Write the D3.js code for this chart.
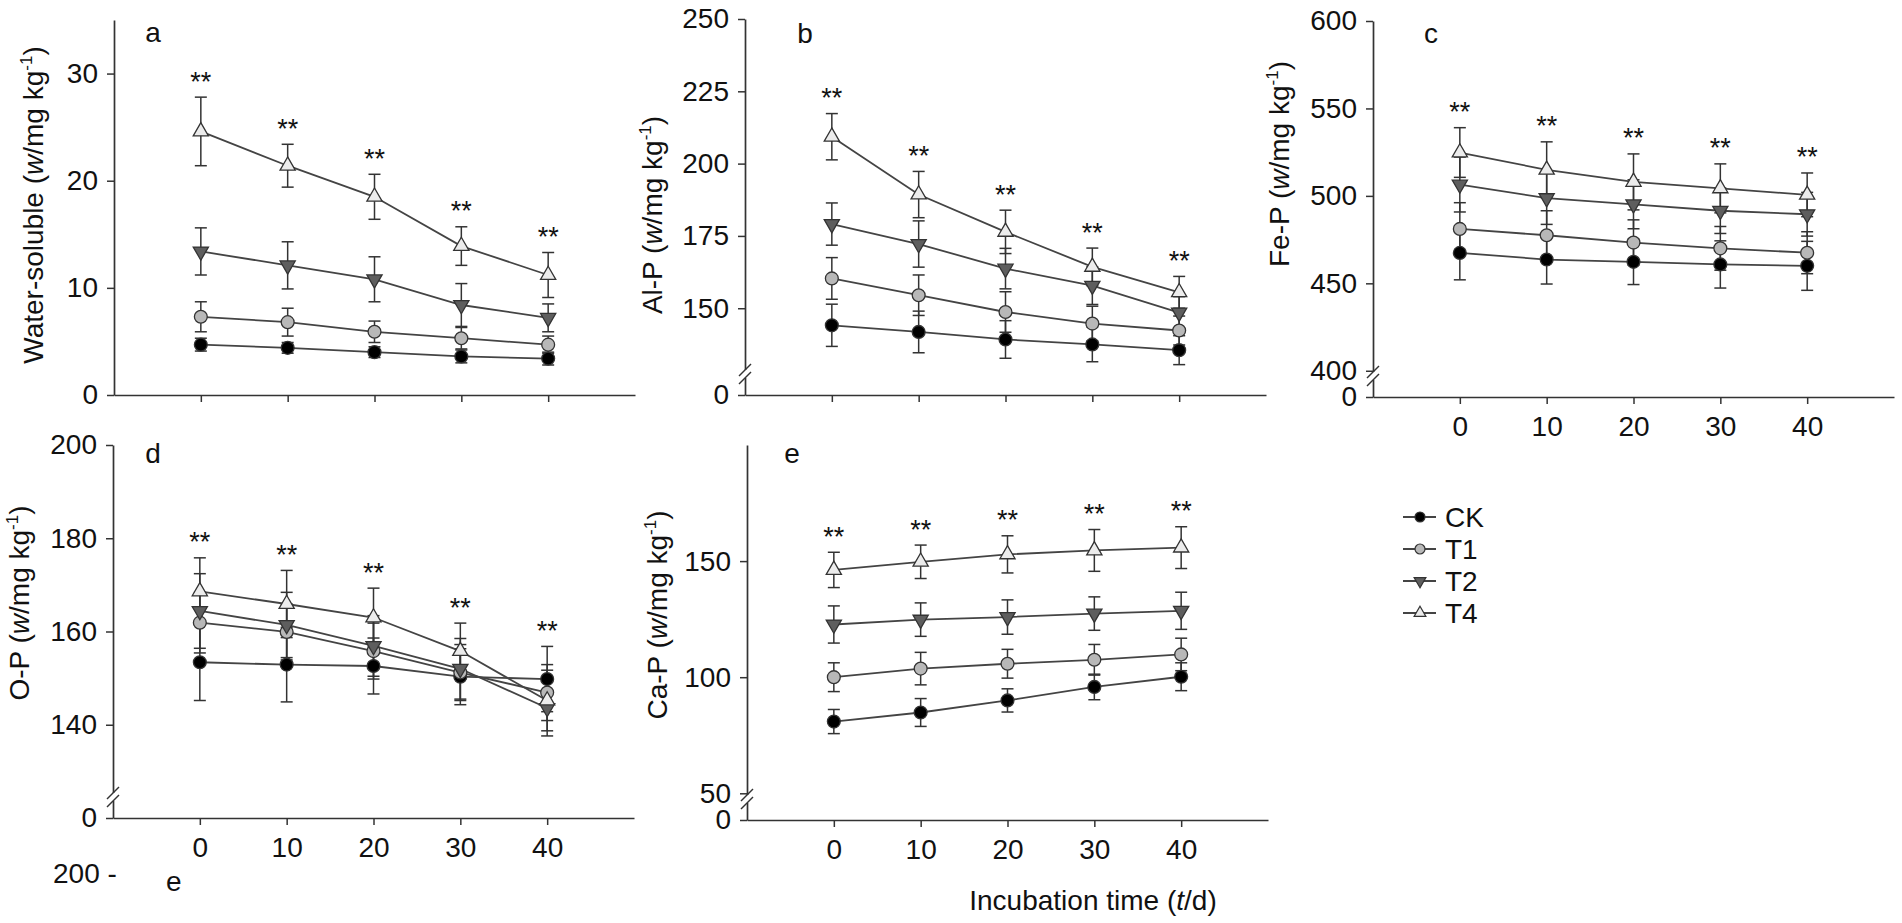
<!DOCTYPE html>
<html>
<head>
<meta charset="utf-8">
<script src="https://cdn.jsdelivr.net/npm/d3@7"></script>
<style>
  body { margin: 0; background: #fff; }
  svg { display: block; }
  text { font-family: "Liberation Sans", Arial, sans-serif; fill: #111; }
</style>
</head>
<body>
<svg id="chart"></svg>
<script>
// incubation days and treatments
var times = [0, 10, 20, 30, 40];
var series = ["CK", "T1", "T2", "T4"];

// a: water-soluble P, rows = CK, T1, T2, T4
var aMean = [[4.7, 4.4, 4.0, 3.6, 3.4], [7.3, 6.8, 5.9, 5.3, 4.7], [13.4, 12.1, 10.8, 8.4, 7.2], [24.6, 21.4, 18.5, 13.9, 11.2]];
var aErr = [[0.6, 0.5, 0.5, 0.6, 0.6], [1.4, 1.3, 1.0, 1.0, 0.8], [2.2, 2.2, 2.1, 2.0, 1.3], [3.2, 2.0, 2.1, 1.8, 2.1]];
// b: Al-P
var bMean = [[144.1, 141.8, 139.2, 137.5, 135.5], [160.3, 154.5, 148.7, 144.7, 142.3], [179.1, 172.2, 163.7, 157.8, 148.5], [209.3, 189.3, 176.4, 164.3, 155.5]];
var bErr = [[7.3, 7.2, 6.5, 6.0, 5.0], [7.2, 7.0, 7.0, 6.0, 5.0], [7.3, 8.0, 7.0, 6.5, 5.5], [8.0, 8.0, 7.5, 6.5, 5.5]];
// c: Fe-P
var cMean = [[467.4, 463.6, 462.3, 460.8, 460.0], [481.1, 477.5, 473.3, 470.0, 467.5], [506.5, 498.7, 495.2, 491.5, 489.5], [524.8, 514.9, 508.0, 504.3, 500.6]];
var cErr = [[15.4, 14.0, 13.0, 13.5, 14.0], [15.0, 14.0, 13.0, 12.5, 12.0], [15.7, 15.0, 14.0, 13.0, 12.5], [14.2, 16.0, 16.0, 14.0, 12.5]];
// d: O-P
var dMean = [[153.4, 152.9, 152.6, 150.3, 149.8], [161.9, 159.9, 155.8, 151.2, 146.9], [164.4, 161.4, 156.9, 152.0, 143.6], [168.6, 165.9, 163.0, 155.8, 145.2]];
var dErr = [[8.2, 8.0, 6.0, 6.0, 7.0], [6.5, 6.0, 6.0, 6.0, 6.0], [8.0, 7.0, 6.5, 6.5, 6.0], [7.2, 7.2, 6.3, 6.0, 6.5]];
// e: Ca-P
var eMean = [[80.9, 84.8, 90.0, 95.8, 100.2], [100.0, 103.7, 105.8, 107.5, 109.8], [122.7, 124.8, 125.9, 127.4, 128.6], [146.2, 149.7, 152.9, 154.6, 155.8]];
var eErr = [[5.2, 6.0, 5.0, 5.5, 6.0], [6.2, 7.0, 6.2, 6.6, 7.0], [8.0, 7.2, 7.4, 7.2, 8.0], [7.6, 7.2, 8.0, 9.0, 9.0]];

// y tick labels per panel
var aTicks = [0, 10, 20, 30];
var bTicks = [150, 175, 200, 225, 250];
var cTicks = [400, 450, 500, 550, 600];
var dTicks = [140, 160, 180, 200];
var eTicks = [50, 100, 150];

// panel layout (pixels)
var panels = [
  { letter: "a", name: "Water-soluble", mean: aMean, err: aErr, ticks: aTicks, lo: 0, hi: 35,
    left: 114, top: 20, bottom: 395, brk: false, xLabels: false, titleX: 43, titleY: 205, letterX: 153, letterY: 42 },
  { letter: "b", name: "Al-P", mean: bMean, err: bErr, ticks: bTicks, lo: 120, hi: 250,
    left: 745, top: 19, bottom: 395, brk: true, xLabels: false, titleX: 662, titleY: 215, letterX: 805, letterY: 43 },
  { letter: "c", name: "Fe-P", mean: cMean, err: cErr, ticks: cTicks, lo: 385, hi: 600,
    left: 1373, top: 21, bottom: 397, brk: true, xLabels: true, titleX: 1289, titleY: 164, letterX: 1431, letterY: 43 },
  { letter: "d", name: "O-P", mean: dMean, err: dErr, ticks: dTicks, lo: 120, hi: 200,
    left: 113, top: 445, bottom: 818, brk: true, xLabels: true, titleX: 29, titleY: 603, letterX: 153, letterY: 463 },
  { letter: "e", name: "Ca-P", mean: eMean, err: eErr, ticks: eTicks, lo: 38.5, hi: 200,
    left: 747, top: 445, bottom: 820, brk: true, xLabels: true, titleX: 667, titleY: 615, letterX: 792, letterY: 463 }
];

var fills = ["#000000", "#b8b8b8", "#5e5e5e", "#ececec"];
var symbols = [d3.symbolCircle, d3.symbolCircle, d3.symbolTriangle, d3.symbolTriangle];
var rotations = [0, 0, 180, 0];
var symSize = [130, 130, 100, 100];

var svg = d3.select("#chart").attr("width", 1902).attr("height", 923);

panels.forEach(function(p) {
  var x = d3.scaleLinear().domain([-10, 50]).range([p.left, p.left + 521]);
  var y = d3.scaleLinear().domain([p.lo, p.hi]).range([p.bottom, p.top]);
  var g = svg.append("g");

  // axes
  var yvals = p.lo === 0 ? p.ticks : [p.lo].concat(p.ticks);
  var yaxis = d3.axisLeft(y).tickValues(yvals)
    .tickFormat(function(d) { return d === p.lo ? "0" : d; })
    .tickSize(7).tickPadding(9).tickSizeOuter(0);
  var xaxis = d3.axisBottom(x).tickValues(times)
    .tickFormat(function(d) { return p.xLabels ? d : ""; })
    .tickSize(7).tickPadding(12).tickSizeOuter(0);

  var yg = g.append("g").attr("transform", `translate(${p.left},0)`).call(yaxis);
  var xg = g.append("g").attr("transform", `translate(0,${p.bottom})`).call(xaxis);
  [yg, xg].forEach(function(ax) {
    ax.select(".domain").attr("stroke", "#333").attr("stroke-width", 1.7);
    ax.selectAll(".tick line").attr("stroke", "#333").attr("stroke-width", 1.5);
    ax.selectAll(".tick text").attr("font-size", 28).attr("fill", "#111")
      .attr("font-family", '"Liberation Sans", Arial, sans-serif');
  });

  // axis break
  if (p.brk) {
    var yc = p.bottom - 21;
    g.append("rect").attr("x", p.left - 3).attr("y", yc - 4).attr("width", 6).attr("height", 8).attr("fill", "#fff");
    [-4, 4].forEach(function(o) {
      g.append("line")
        .attr("x1", p.left - 6).attr("y1", yc + o + 6)
        .attr("x2", p.left + 6).attr("y2", yc + o - 6)
        .attr("stroke", "#333").attr("stroke-width", 1.5);
    });
  }

  // error bars
  p.mean.forEach(function(row, s) {
    var eb = g.append("g").attr("stroke", "#333").attr("stroke-width", 1.5);
    row.forEach(function(m, i) {
      var e = p.err[s][i];
      var cx = x(times[i]);
      eb.append("line").attr("x1", cx).attr("x2", cx).attr("y1", y(m - e)).attr("y2", y(m + e));
      eb.append("line").attr("x1", cx - 6).attr("x2", cx + 6).attr("y1", y(m - e)).attr("y2", y(m - e));
      eb.append("line").attr("x1", cx - 6).attr("x2", cx + 6).attr("y1", y(m + e)).attr("y2", y(m + e));
    });
  });

  // lines
  var line = d3.line().x(function(d, i) { return x(times[i]); }).y(function(d) { return y(d); });
  p.mean.forEach(function(row) {
    g.append("path").attr("d", line(row)).attr("fill", "none").attr("stroke", "#444").attr("stroke-width", 1.8);
  });

  // markers
  p.mean.forEach(function(row, s) {
    g.selectAll(null).data(row).enter().append("path")
      .attr("d", d3.symbol().type(symbols[s]).size(symSize[s]))
      .attr("transform", function(d, i) { return `translate(${x(times[i])},${y(d)}) rotate(${rotations[s]})`; })
      .attr("fill", fills[s]).attr("stroke", "#333").attr("stroke-width", 1.3);
  });

  // significance marks
  times.forEach(function(t, i) {
    var top = d3.max(p.mean, function(row, s) { return row[i] + p.err[s][i]; });
    g.append("text").attr("x", x(t)).attr("y", y(top) - 6.5)
      .attr("text-anchor", "middle").attr("font-size", 27).text("**");
  });

  // panel letter
  g.append("text").attr("x", p.letterX).attr("y", p.letterY)
    .attr("text-anchor", "middle").attr("font-size", 28).text(p.letter);

  // y title
  var title = g.append("text")
    .attr("transform", `translate(${p.titleX},${p.titleY}) rotate(-90)`)
    .attr("text-anchor", "middle").attr("font-size", 28);
  title.append("tspan").text(p.name + " (");
  title.append("tspan").attr("font-style", "italic").text("w");
  title.append("tspan").text("/mg kg");
  title.append("tspan").attr("font-size", 17).attr("dy", -11).text("-1");
  title.append("tspan").attr("dy", 11).text(")");
});

// legend
var legend = svg.append("g").attr("transform", "translate(1403,517)");
series.forEach(function(name, s) {
  var row = legend.append("g").attr("transform", `translate(0,${s * 32})`);
  row.append("line").attr("x1", 0).attr("x2", 33).attr("y1", 0).attr("y2", 0)
    .attr("stroke", "#444").attr("stroke-width", 1.8);
  row.append("path")
    .attr("d", d3.symbol().type(symbols[s]).size(symSize[s] * 0.6))
    .attr("transform", `translate(17,0) rotate(${rotations[s]})`)
    .attr("fill", fills[s]).attr("stroke", "#333").attr("stroke-width", 1.2);
  row.append("text").attr("x", 42).attr("y", 10).attr("font-size", 28).text(name);
});

// stray labels at the bottom
svg.append("text").attr("x", 53).attr("y", 883).attr("font-size", 28).text("200 -");
svg.append("text").attr("x", 166).attr("y", 891).attr("font-size", 28).text("e");

var xtitle = svg.append("text").attr("x", 1093).attr("y", 910)
  .attr("text-anchor", "middle").attr("font-size", 28);
xtitle.append("tspan").text("Incubation time (");
xtitle.append("tspan").attr("font-style", "italic").text("t");
xtitle.append("tspan").text("/d)");
</script>
</body>
</html>
